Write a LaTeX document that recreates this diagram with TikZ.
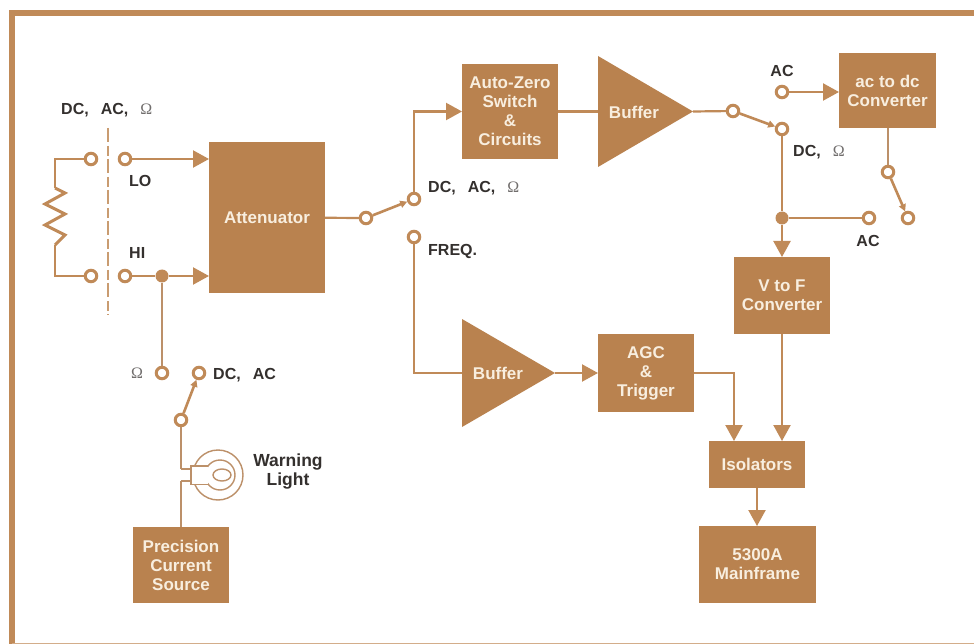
\documentclass[tikz,border=0pt]{standalone}
\usepackage{fontspec}
\setmainfont{Liberation Sans}
\newfontfamily\omegafont{Liberation Serif}
\usepackage{tikz}
\usetikzlibrary{arrows.meta, shapes.geometric}

\definecolor{hpbrown}{HTML}{B9824F}
\definecolor{hpwire}{HTML}{C08A58}
\definecolor{hpthin}{HTML}{BC9069}
\definecolor{hpcream}{HTML}{F8EEDF}
\definecolor{hpink}{HTML}{34302E}
\newcommand{\ohm}{{\omegafont\mdseries\color{hpink!70}Ω}}
\newcommand{\tagsep}{\hspace{12pt}}

\begin{document}
\begin{tikzpicture}[x=1pt, y=-1pt, >={Triangle[length=16pt, width=17pt]}]
    \tikzstyle{block} = [fill=hpbrown, text=hpcream, align=center, inner sep=0pt, outer sep=0pt,
	font=\bfseries\fontsize{17}{19}\selectfont]
    \tikzstyle{buffer} = [isosceles triangle, isosceles triangle stretches, fill=hpbrown,
	inner sep=0pt, outer sep=0pt, anchor=lower side]
    \tikzstyle{blocktext} = [text=hpcream, font=\bfseries\fontsize{17}{19}\selectfont]
    \tikzstyle{term} = [draw=hpwire, line width=3pt, fill=white, circle, minimum size=11.5pt,
	inner sep=0pt]
    \tikzstyle{joint} = [fill=hpwire, circle, minimum size=13pt, inner sep=0pt]
    \tikzstyle{tag} = [text=hpink, align=center, inner sep=0pt, font=\bfseries\fontsize{16}{19}\selectfont]
    \tikzstyle{wire} = [hpwire, line width=2.2pt]
    \tikzstyle{thin wire} = [hpthin, line width=1.6pt]
    \tikzstyle{lamp line} = [hpthin, line width=1.4pt]
    \tikzstyle{throw} = [hpwire, line width=2.6pt, -{Triangle[length=7pt, width=7pt]}]

    \useasboundingbox (0,0) rectangle (974,644);
    \fill[white] (0,0) rectangle (974,644);

    % frame, open on the right
    \draw[hpwire, line width=5.5pt] (974,13) -- (12,13) -- (12,644);
    \draw[hpwire!70, line width=3pt] (12,644) -- (974,644);

	% blocks
	\path
		node[block, minimum width=116pt, minimum height=151pt] (attenuator) at (267,217.5) {Attenuator}
		node[block, minimum width=96pt, minimum height=95pt] (auto_zero) at (510,111.5) {Auto-Zero\\Switch\\\&\\Circuits}
		node[block, minimum width=97pt, minimum height=75pt] (ac_dc) at (887.5,90.5) {ac to dc\\Converter}
		node[block, minimum width=96pt, minimum height=77pt] (v_to_f) at (782,295.5) {V to F\\Converter}
		node[block, minimum width=96pt, minimum height=78pt] (agc) at (646,373) {AGC\\\&\\Trigger}
		node[block, minimum width=96pt, minimum height=47pt] (isolators) at (757,464.5) {Isolators}
		node[block, minimum width=117pt, minimum height=77pt] (mainframe) at (757.5,564.5) {5300A\\Mainframe}
		node[block, minimum width=96pt, minimum height=76pt] (current_source) at (181,565) {Precision\\Current\\Source}

		node[buffer, minimum width=111pt, minimum height=95pt] (buffer_1) at (598,111.5) {}
		node[buffer, minimum width=108pt, minimum height=93pt] (buffer_2) at (462,373) {}
		node[blocktext] (buffer_1_text) at (634,112) {Buffer}
		node[blocktext] (buffer_2_text) at (498,373) {Buffer}
	;

	% terminals, switches
	\path
		node[term] (t_lo_l) at (91,159) {}
		node[term] (t_lo_r) at (125,159) {}
		node[term] (t_hi_l) at (91,276) {}
		node[term] (t_hi_r) at (125,276) {}
		node[joint] (j_hi) at (162,276) {}
		node[term] (t_ohm) at (162,373) {}
		node[term] (t_dcac) at (199,373) {}
		node[term] (t_lamp) at (181,420) {}
		node[term] (t_att) at (366,218) {}
		node[term] (t_all) at (414,199) {}
		node[term] (t_freq) at (414,237) {}
		node[term] (t_buf) at (733,111) {}
		node[term] (t_dc) at (782,129) {}
		node[joint] (j_dc) at (782,218) {}
		node[term] (t_ac_out) at (869,218) {}
		node[term] (t_ac_in) at (782,92) {}
		node[term] (t_conv) at (888,172) {}
		node[term] (t_conv_out) at (908,218) {}

		coordinate (r_top) at (55,188)
		coordinate (r_bottom) at (55,245)
		coordinate (d_top) at (108,128)
		coordinate (d_bottom) at (108,315)
		coordinate (lamp_a) at (191,469)
		coordinate (lamp_b) at (191,481)
	;

	% labels
	\path
		node[tag, anchor=west] (l_input) at (61,110) {DC,\tagsep AC,\tagsep\ohm}
		node[tag, anchor=west] (l_lo) at (129,181) {LO}
		node[tag, anchor=west] (l_hi) at (129,253) {HI}
		node[tag] (l_ohm) at (137,373) {\ohm}
		node[tag, anchor=west] (l_dcac) at (213,375) {DC,\tagsep AC}
		node[tag, font=\bfseries\fontsize{17.5}{19}\selectfont] (l_warning) at (288,472) {Warning\\Light}
		node[tag, anchor=west] (l_all) at (428,188) {DC,\tagsep AC,\tagsep\ohm}
		node[tag, anchor=west] (l_freq) at (428,251) {FREQ.}
		node[tag] (l_ac_in) at (782,71) {AC}
		node[tag, anchor=west] (l_dc) at (793,152) {DC,\tagsep\ohm}
		node[tag] (l_ac_out) at (868,241) {AC}
	;

	% connectors
	\path[wire]
		(t_lo_r) edge[->] (t_lo_r -| attenuator.west)
		(t_hi_r) edge (j_hi)
		(j_hi) edge[->] (j_hi -| attenuator.west)
		(attenuator) edge (t_att)
		(t_att) edge[throw] (t_all)
		(auto_zero) edge (buffer_1)
		(buffer_1.apex) edge (t_buf)
		(t_buf) edge[throw] (t_dc)
		(t_dc) edge (j_dc)
		(j_dc) edge (t_ac_out)
		(j_dc) edge[->] (j_dc |- v_to_f.north)
		(t_ac_in) edge[->] (t_ac_in -| ac_dc.west)
		(t_conv) edge[throw] (t_conv_out)
		(t_lamp) edge[throw] (t_dcac)
		(buffer_2.apex) edge[->] (agc)
		(v_to_f) edge[->] (v_to_f.south |- isolators.north)
		(isolators.south) edge[->] (isolators.south |- mainframe.north)
	;
	\draw[wire, ->] (t_all) |- (auto_zero);
	\draw[wire] (t_freq) |- (buffer_2.lower side);
	\draw[wire, ->] (agc) -| ([xshift=-23pt]isolators.north);
	\draw[wire] (t_lo_l) -| (r_top);
	\draw[wire] (t_hi_l) -| (r_bottom);
	\draw[wire, line width=3pt] (r_top) -- ++(10,5) -- ++(-20,11) -- ++(20,10) -- ++(-20,11) -- ++(20,10) -- ++(-10,10) -- (r_bottom);

	\draw[hpwire!85, line width=1.8pt, dash pattern=on 14pt off 4pt on 10pt off 3pt] (d_top) -- (d_bottom);

	\path[thin wire]
		(ac_dc.south -| t_conv) edge (t_conv)
		(j_hi) edge (t_ohm)
		(t_lamp) edge (t_lamp |- lamp_a)
		(current_source.north) edge (current_source.north |- lamp_b)
	;

	% lamp
	\path
		node[circle, draw=hpthin, line width=1.4pt, minimum size=50pt, inner sep=0pt] (lamp) at (218,475) {}
		node[circle, draw=hpthin, line width=1.4pt, minimum size=30pt, inner sep=0pt] (lamp_inner) at (220,475) {}
		node[ellipse, draw=hpthin, line width=1.4pt, minimum width=18pt, minimum height=12pt, inner sep=0pt] (filament) at (222,475) {}
		node[fill=white, minimum width=17pt, minimum height=18pt, inner sep=0pt] (lamp_base) at (199.5,475) {}
	;
	\draw[lamp line] (lamp_base.north east) -- (lamp_base.north west) -- (lamp_base.south west) -- (lamp_base.south east);
	\draw[lamp line] (t_lamp |- lamp_a) -- (lamp_a);
	\draw[lamp line] (t_lamp |- lamp_b) -- (lamp_b);
\end{tikzpicture}
\end{document}
